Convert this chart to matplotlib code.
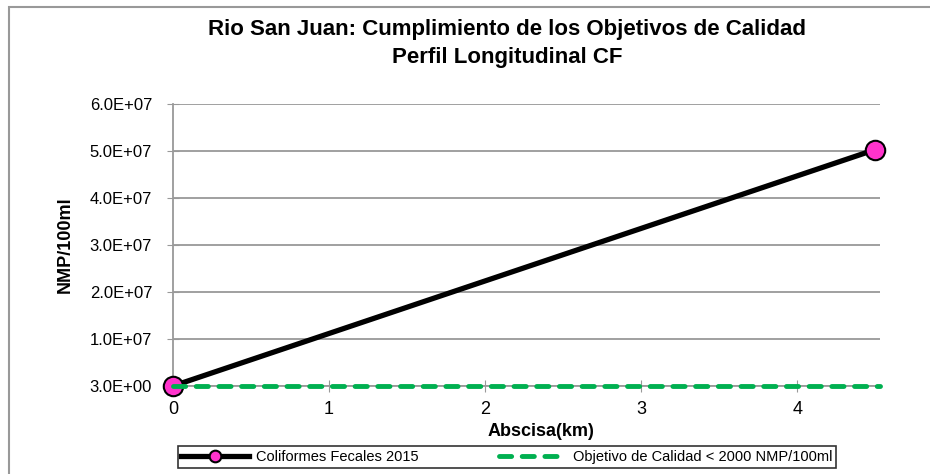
import matplotlib
matplotlib.use("Agg")
import matplotlib.pyplot as plt
from matplotlib.patches import Rectangle
from matplotlib import font_manager

names = {f.name for f in font_manager.fontManager.ttflist}
FONT = "Liberation Sans Narrow" if "Liberation Sans Narrow" in names else "Liberation Sans"
plt.rcParams['font.family'] = [FONT, 'DejaVu Sans']

# Data
abscisa = [0.0, 4.5]
coliformes = [3.0, 5.03e7]
objetivo_x = [0.0, 4.53]
objetivo = [2000, 2000]
y_ticks = [3.0, 1e7, 2e7, 3e7, 4e7, 5e7, 6e7]
y_labels = ["3.0E+00", "1.0E+07", "2.0E+07", "3.0E+07", "4.0E+07", "5.0E+07", "6.0E+07"]
x_ticks = [0, 1, 2, 3, 4]

fig = plt.figure(figsize=(9.3, 4.74), dpi=100)
fig.patches.append(Rectangle((9/930, -0.1), 1.2, 1 - 7/474 + 0.1, transform=fig.transFigure,
                             fill=False, edgecolor='#999999', linewidth=1.5, zorder=0))
ax = fig.add_axes([173/930, 1 - 386/474, (880 - 173)/930, (386 - 104)/474])

ax.plot(objetivo_x, objetivo, color='#00B050', linestyle=(0, (2.5, 2.17)), linewidth=3.5,
        dash_capstyle='round', label='Objetivo de Calidad < 2000 NMP/100ml', zorder=5,
        clip_on=False)
ax.plot(abscisa, coliformes, color='black', linewidth=3.8, marker='o', markersize=14,
        markerfacecolor='#FF33CC', markeredgecolor='black', markeredgewidth=1.5,
        label='Coliformes Fecales 2015', zorder=4, clip_on=False)

ax.set_xlim(0, 4.53)
ax.set_ylim(3.0, 6e7)
ax.set_yticks(y_ticks)
ax.set_yticklabels(y_labels)
ax.set_xticks(x_ticks)
ax.grid(axis='y', color='#999999', linewidth=1.3)
ax.set_axisbelow(True)
for s in ['top', 'right']:
    ax.spines[s].set_visible(False)
for s in ['left', 'bottom']:
    ax.spines[s].set_color('#999999')
    ax.spines[s].set_linewidth(1.3)
ax.tick_params(axis='y', direction='inout', length=8, color='#999999', labelsize=12, pad=11)
ax.tick_params(axis='x', direction='inout', length=8, color='#999999', labelsize=13, pad=7)

fig.text(507/930, 1 - 30/474, "Rio San Juan: Cumplimiento de los Objetivos de Calidad",
         ha='center', va='center', fontsize=16, fontweight='bold')
fig.text(507/930, 1 - 58/474, "Perfil Longitudinal CF", ha='center', va='center',
         fontsize=16, fontweight='bold')
fig.text(65/930, 1 - 245/474, "NMP/100ml", rotation=90, ha='center', va='center',
         fontsize=13, fontweight='bold')
fig.text(541/930, 1 - 432/474, "Abscisa(km)", ha='center', va='center',
         fontsize=13, fontweight='bold')

handles, labels = ax.get_legend_handles_labels()
leg = fig.legend(handles[::-1], labels[::-1], loc='center', bbox_to_anchor=(507/930, 1 - 457/474),
                 ncol=2, frameon=True, fancybox=False, edgecolor='black', fontsize=10.5,
                 handlelength=4.6, handletextpad=0.5, columnspacing=5.5, borderpad=0.25,
                 markerscale=0.6)
leg.get_frame().set_linewidth(1.2)

fig.savefig("out.png", dpi=100)
